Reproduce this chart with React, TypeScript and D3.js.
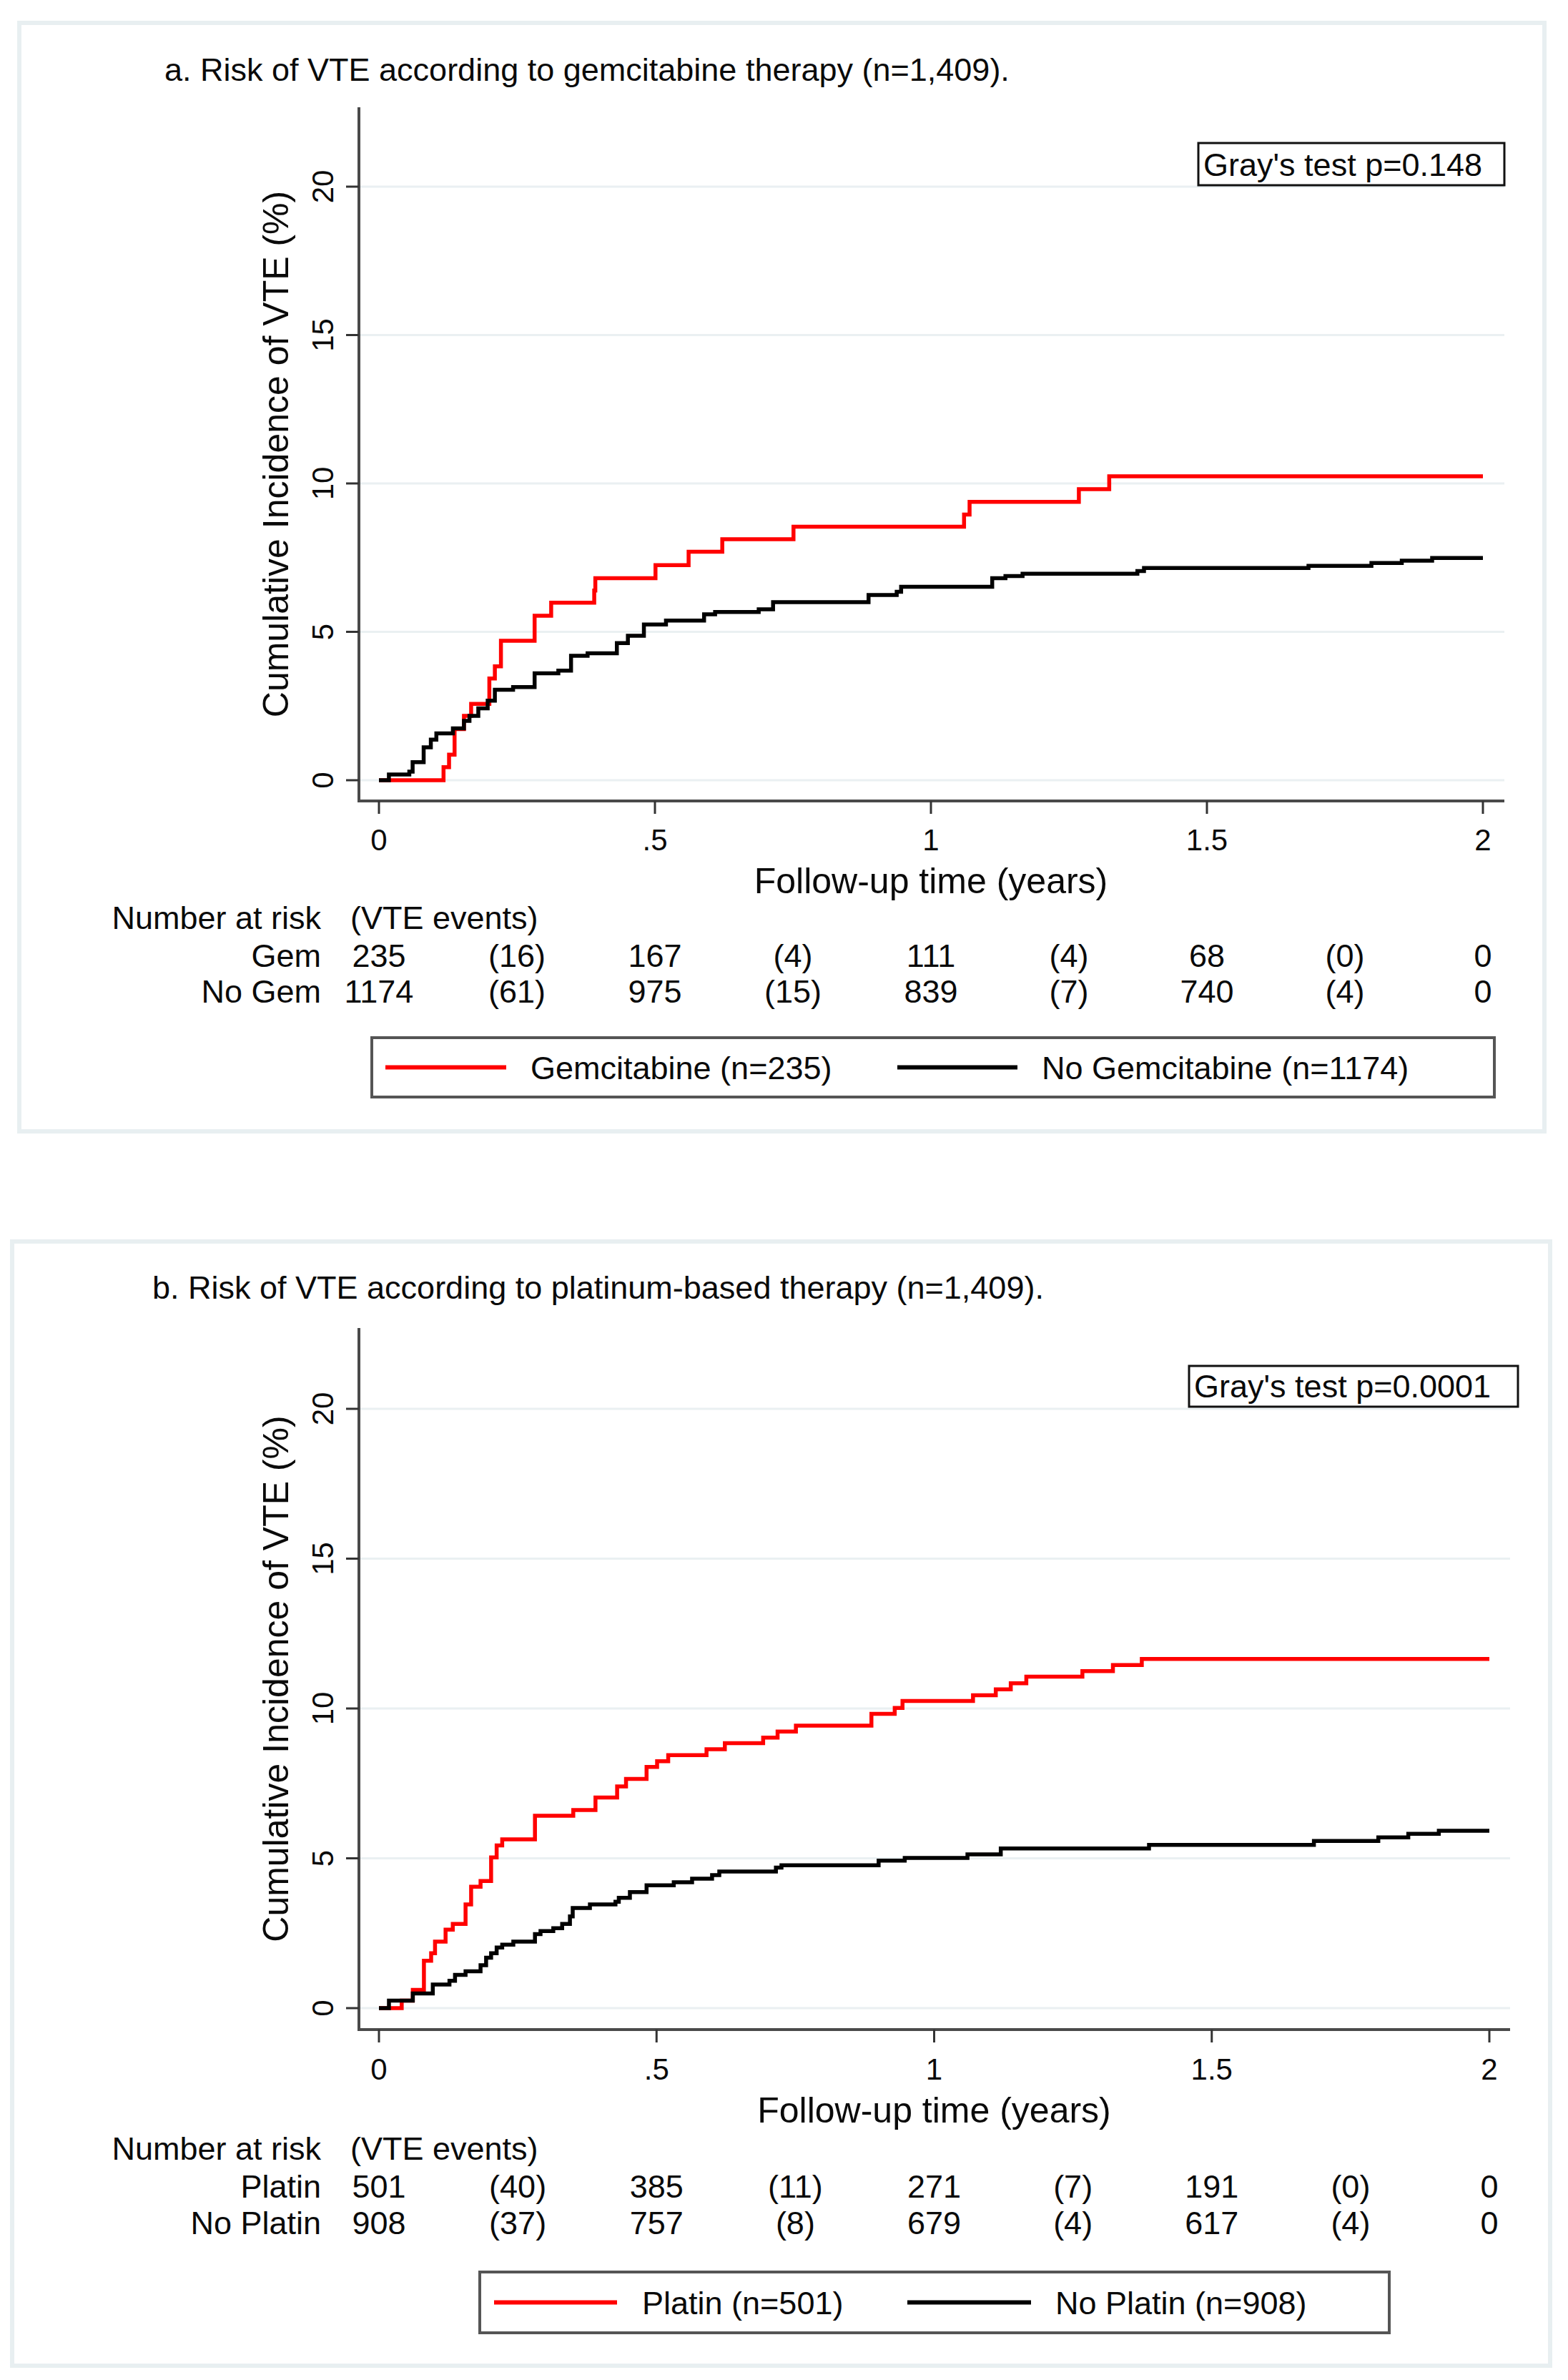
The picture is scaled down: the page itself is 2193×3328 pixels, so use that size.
import React, { useEffect, useRef } from 'react';
import * as d3 from 'd3';

const W = 2193;
const H = 3328;
const FONT = '"Liberation Sans", Arial, Helvetica, sans-serif';

// axes / at-risk table columns
const xTicks = [0, 0.5, 1, 1.5, 2];
const xTickLabels = ['0', '.5', '1', '1.5', '2'];
const yTicks = [0, 5, 10, 15, 20];
const eventTimes = [0.25, 0.75, 1.25, 1.75];

// panel a: gemcitabine
const gemT = [0, 0.117, 0.127, 0.137, 0.154, 0.167, 0.2, 0.21, 0.221, 0.282, 0.312, 0.39, 0.392, 0.501, 0.561, 0.622, 0.751, 1.06, 1.07, 1.268, 1.323, 2.0];
const gemCI = [0, 0.44, 0.86, 1.72, 2.17, 2.57, 3.43, 3.84, 4.7, 5.54, 5.98, 6.39, 6.81, 7.25, 7.7, 8.12, 8.54, 8.95, 9.38, 9.81, 10.24, 10.24];
const noGemT = [0, 0.018, 0.055, 0.061, 0.081, 0.094, 0.104, 0.134, 0.154, 0.164, 0.18, 0.197, 0.21, 0.243, 0.282, 0.325, 0.348, 0.378, 0.431, 0.451, 0.48, 0.52, 0.589, 0.609, 0.688, 0.714, 0.887, 0.938, 0.946, 1.111, 1.135, 1.166, 1.374, 1.386, 1.684, 1.798, 1.853, 1.908, 2.0];
const noGemCI = [0, 0.19, 0.29, 0.61, 1.11, 1.37, 1.58, 1.75, 2.0, 2.17, 2.42, 2.68, 3.05, 3.14, 3.6, 3.69, 4.19, 4.28, 4.62, 4.87, 5.25, 5.38, 5.59, 5.67, 5.76, 6.0, 6.24, 6.35, 6.52, 6.81, 6.88, 6.96, 7.05, 7.15, 7.22, 7.32, 7.4, 7.49, 7.49];
const gemAtRisk = [235, 167, 111, 68, 0];
const gemEvents = [16, 4, 4, 0];
const noGemAtRisk = [1174, 975, 839, 740, 0];
const noGemEvents = [61, 15, 7, 4];

// panel b: platinum
const platT = [0, 0.041, 0.061, 0.081, 0.094, 0.101, 0.12, 0.133, 0.156, 0.166, 0.183, 0.202, 0.212, 0.222, 0.281, 0.35, 0.39, 0.429, 0.445, 0.482, 0.501, 0.521, 0.59, 0.623, 0.692, 0.718, 0.751, 0.887, 0.929, 0.943, 1.07, 1.111, 1.138, 1.166, 1.267, 1.322, 1.374, 2.0];
const platCI = [0, 0.25, 0.61, 1.58, 1.83, 2.22, 2.62, 2.81, 3.46, 4.05, 4.24, 5.03, 5.43, 5.63, 6.42, 6.61, 7.03, 7.4, 7.65, 8.05, 8.24, 8.44, 8.64, 8.84, 9.03, 9.23, 9.43, 9.82, 10.02, 10.25, 10.44, 10.64, 10.84, 11.06, 11.25, 11.45, 11.65, 11.65];
const noPlatT = [0, 0.018, 0.061, 0.097, 0.127, 0.137, 0.156, 0.183, 0.193, 0.202, 0.212, 0.222, 0.242, 0.281, 0.291, 0.314, 0.33, 0.344, 0.349, 0.38, 0.426, 0.432, 0.452, 0.482, 0.531, 0.564, 0.6, 0.613, 0.715, 0.725, 0.9, 0.947, 1.06, 1.12, 1.387, 1.684, 1.8, 1.854, 1.909, 2.0];
const noPlatCI = [0, 0.25, 0.49, 0.79, 0.91, 1.11, 1.23, 1.43, 1.68, 1.83, 2.02, 2.12, 2.22, 2.47, 2.57, 2.67, 2.81, 3.06, 3.34, 3.46, 3.55, 3.68, 3.87, 4.1, 4.2, 4.32, 4.44, 4.56, 4.69, 4.77, 4.92, 5.01, 5.13, 5.33, 5.45, 5.58, 5.7, 5.82, 5.92, 5.92];
const platAtRisk = [501, 385, 271, 191, 0];
const platEvents = [40, 11, 7, 0];
const noPlatAtRisk = [908, 757, 679, 617, 0];
const noPlatEvents = [37, 8, 4, 4];

const panels = [
  {
    title: 'a. Risk of VTE according to gemcitabine therapy (n=1,409).',
    test: "Gray's test p=0.148",
    series: [
      { t: gemT, v: gemCI, color: '#ff0000', row: 'Gem', atRisk: gemAtRisk, events: gemEvents, legend: 'Gemcitabine (n=235)' },
      { t: noGemT, v: noGemCI, color: '#000000', row: 'No Gem', atRisk: noGemAtRisk, events: noGemEvents, legend: 'No Gemcitabine (n=1174)' },
    ],
    lay: {
      frame: [27, 32, 2160, 1582], titleX: 230, titleY: 113,
      axisL: 502, axisR: 2104, axisTop: 150, axisY: 1120,
      x0: 530, x2: 2074, y0: 1091, y20: 261,
      box: [1676, 200, 2104, 259],
      tickY: 1189, xTitleY: 1249,
      table: [1299, 1352, 1402],
      legend: [520, 1451, 2090, 1534], leg: [[539, 708, 742], [1255, 1423, 1457]],
    },
  },
  {
    title: 'b. Risk of VTE according to platinum-based therapy (n=1,409).',
    test: "Gray's test p=0.0001",
    series: [
      { t: platT, v: platCI, color: '#ff0000', row: 'Platin', atRisk: platAtRisk, events: platEvents, legend: 'Platin (n=501)' },
      { t: noPlatT, v: noPlatCI, color: '#000000', row: 'No Platin', atRisk: noPlatAtRisk, events: noPlatEvents, legend: 'No Platin (n=908)' },
    ],
    lay: {
      frame: [17, 1736, 2168, 3308], titleX: 213, titleY: 1816,
      axisL: 502, axisR: 2112, axisTop: 1857, axisY: 2838,
      x0: 530, x2: 2083, y0: 2808, y20: 1970,
      box: [1663, 1910, 2123, 1967],
      tickY: 2908, xTitleY: 2968,
      table: [3020, 3073, 3124],
      legend: [671, 3177, 1943, 3262], leg: [[691, 863, 898], [1269, 1442, 1476]],
    },
  },
];

const App: React.FC = () => {
  const svgRef = useRef<SVGSVGElement>(null);

  useEffect(() => {
    if (!svgRef.current) return;
    document.body.style.margin = '0';
    const svg = d3.select(svgRef.current);
    svg.selectAll('*').remove();

    svg.append('rect').attr('width', W).attr('height', H).attr('fill', '#ffffff');

    panels.forEach((p) => {
      const L = p.lay;
      const g = svg.append('g').style('font-family', FONT);

      const x = d3.scaleLinear().domain([0, 2]).range([L.x0, L.x2]);
      const y = d3.scaleLinear().domain([0, 20]).range([L.y0, L.y20]);

      // outer frame
      g.append('rect')
        .attr('x', L.frame[0]).attr('y', L.frame[1])
        .attr('width', L.frame[2] - L.frame[0]).attr('height', L.frame[3] - L.frame[1])
        .attr('fill', 'none').attr('stroke', '#e8eff1').attr('stroke-width', 6);

      g.append('text')
        .attr('x', L.titleX).attr('y', L.titleY)
        .style('font-size', '45px').attr('fill', '#0a0a0a')
        .text(p.title);

      // gridlines
      g.selectAll('line.grid').data(yTicks).enter().append('line')
        .attr('x1', L.axisL).attr('x2', L.axisR)
        .attr('y1', (d) => y(d)).attr('y2', (d) => y(d))
        .attr('stroke', '#eaf0f2').attr('stroke-width', 3);

      // axes
      g.append('line').attr('x1', L.axisL).attr('x2', L.axisL).attr('y1', L.axisTop).attr('y2', L.axisY + 2)
        .attr('stroke', '#4a4a4a').attr('stroke-width', 4);
      g.append('line').attr('x1', L.axisL - 2).attr('x2', L.axisR).attr('y1', L.axisY).attr('y2', L.axisY)
        .attr('stroke', '#4a4a4a').attr('stroke-width', 4);

      g.selectAll('line.yt').data(yTicks).enter().append('line')
        .attr('x1', L.axisL - 18).attr('x2', L.axisL)
        .attr('y1', (d) => y(d)).attr('y2', (d) => y(d))
        .attr('stroke', '#333').attr('stroke-width', 3);
      g.selectAll('text.yt').data(yTicks).enter().append('text')
        .attr('transform', (d) => `translate(466,${y(d)}) rotate(-90)`)
        .attr('text-anchor', 'middle').style('font-size', '42px').attr('fill', '#0a0a0a')
        .text((d) => String(d));

      g.selectAll('line.xt').data(xTicks).enter().append('line')
        .attr('x1', (d) => x(d)).attr('x2', (d) => x(d))
        .attr('y1', L.axisY).attr('y2', L.axisY + 18)
        .attr('stroke', '#333').attr('stroke-width', 3);
      g.selectAll('text.xt').data(xTicks).enter().append('text')
        .attr('x', (d) => x(d)).attr('y', L.tickY)
        .attr('text-anchor', 'middle').style('font-size', '42px').attr('fill', '#0a0a0a')
        .text((d, i) => xTickLabels[i]);

      g.append('text')
        .attr('x', (L.x0 + L.x2) / 2).attr('y', L.xTitleY)
        .attr('text-anchor', 'middle').style('font-size', '50px').attr('fill', '#0a0a0a')
        .text('Follow-up time (years)');
      g.append('text')
        .attr('transform', `translate(403,${(L.axisTop + L.axisY) / 2}) rotate(-90)`)
        .attr('text-anchor', 'middle').style('font-size', '50px').attr('fill', '#0a0a0a')
        .text('Cumulative Incidence of VTE (%)');

      // curves
      const line = d3.line<[number, number]>()
        .x((d) => x(d[0])).y((d) => y(d[1]))
        .curve(d3.curveStepAfter);
      p.series.forEach((s) => {
        const pts = s.t.map((t, i) => [t, s.v[i]] as [number, number]);
        g.append('path').attr('d', line(pts) || '')
          .attr('fill', 'none').attr('stroke', s.color).attr('stroke-width', 5.5)
          .attr('stroke-linejoin', 'miter');
      });

      // test box
      g.append('rect')
        .attr('x', L.box[0]).attr('y', L.box[1])
        .attr('width', L.box[2] - L.box[0]).attr('height', L.box[3] - L.box[1])
        .attr('fill', '#fff').attr('stroke', '#111').attr('stroke-width', 3);
      g.append('text')
        .attr('x', L.box[0] + 7).attr('y', L.box[3] - 13)
        .style('font-size', '45px').attr('fill', '#0a0a0a')
        .text(p.test);

      // number at risk table
      g.append('text').attr('x', 449).attr('y', L.table[0]).attr('text-anchor', 'end')
        .style('font-size', '45px').attr('fill', '#0a0a0a').text('Number at risk');
      g.append('text').attr('x', 490).attr('y', L.table[0])
        .style('font-size', '45px').attr('fill', '#0a0a0a').text('(VTE events)');
      p.series.forEach((s, k) => {
        const ty = L.table[k + 1];
        g.append('text').attr('x', 449).attr('y', ty).attr('text-anchor', 'end')
          .style('font-size', '45px').attr('fill', '#0a0a0a').text(s.row);
        g.selectAll(null).data(s.atRisk).enter().append('text')
          .attr('x', (d, i) => x(xTicks[i])).attr('y', ty).attr('text-anchor', 'middle')
          .style('font-size', '45px').attr('fill', '#0a0a0a').text((d) => String(d));
        g.selectAll(null).data(s.events).enter().append('text')
          .attr('x', (d, i) => x(eventTimes[i])).attr('y', ty).attr('text-anchor', 'middle')
          .style('font-size', '45px').attr('fill', '#0a0a0a').text((d) => `(${d})`);
      });

      // legend
      const lg = L.legend;
      const ly = (lg[1] + lg[3]) / 2;
      g.append('rect')
        .attr('x', lg[0]).attr('y', lg[1]).attr('width', lg[2] - lg[0]).attr('height', lg[3] - lg[1])
        .attr('fill', '#fff').attr('stroke', '#555').attr('stroke-width', 4);
      p.series.forEach((s, k) => {
        const [a, b, tx] = L.leg[k];
        g.append('line').attr('x1', a).attr('x2', b).attr('y1', ly).attr('y2', ly)
          .attr('stroke', s.color).attr('stroke-width', 6);
        g.append('text').attr('x', tx).attr('y', ly + 16)
          .style('font-size', '45px').attr('fill', '#0a0a0a').text(s.legend);
      });
    });
  }, []);

  return (
    <svg
      ref={svgRef}
      width={W}
      height={H}
      viewBox={`0 0 ${W} ${H}`}
      style={{ display: 'block', position: 'absolute', left: 0, top: 0 }}
    />
  );
};

export default App;
